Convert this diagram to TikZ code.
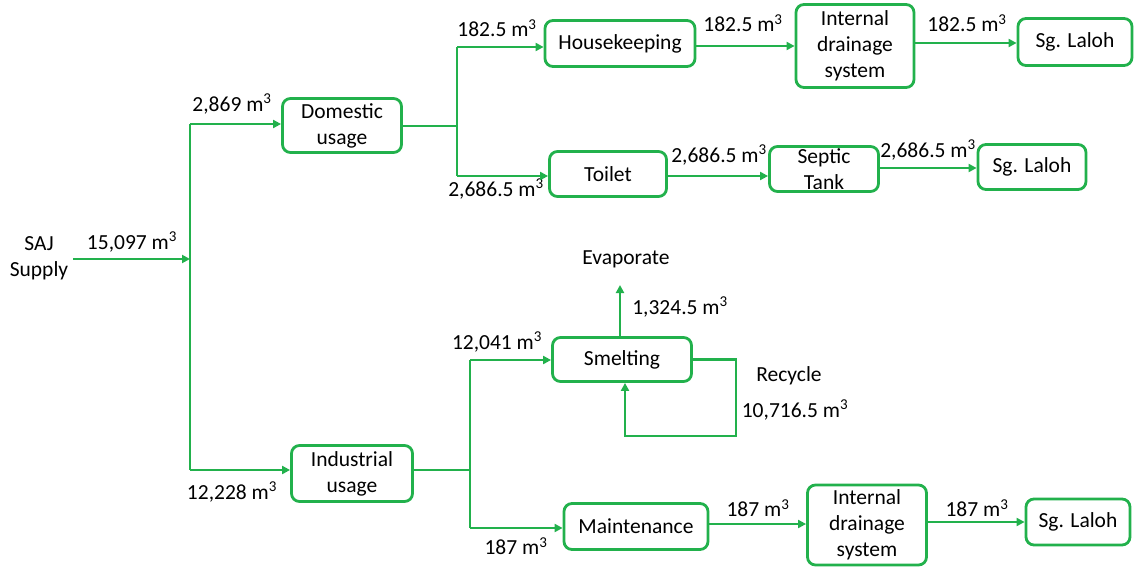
\documentclass[tikz,border=0pt]{standalone}
\usepackage{fontspec}
\setmainfont{Carlito}
\usetikzlibrary{arrows.meta}
\definecolor{flowgreen}{RGB}{34,177,76}
\begin{document}
\begin{tikzpicture}[x=1pt,y=-1pt,
  box/.style={draw=flowgreen, line width=2.8pt, rounded corners=8pt, align=center, inner sep=0pt, font=\fontsize{21.5}{26}\selectfont},
  lbl/.style={font=\fontsize{21.5}{26}\selectfont, inner sep=0pt, align=center},
  flow/.style={draw=flowgreen, line width=2.8pt, -{Triangle[length=8pt,width=8pt]}},
  plain/.style={draw=flowgreen, line width=2.8pt}]
\useasboundingbox (0,0) rectangle (1134,569);

% boxes
\node[box, minimum width=119pt, minimum height=54pt] (dom) at (342,125.5) {Domestic\\usage};
\node[box, minimum width=150pt, minimum height=46pt] (hk) at (620,43.5) {Housekeeping};
\node[box, minimum width=118pt, minimum height=83pt] (idt) at (855,46) {Internal\\drainage\\system};
\node[box, minimum width=114pt, minimum height=47pt] (sgt) at (1075,42) {Sg. Laloh};
\node[box, minimum width=117pt, minimum height=45pt] (toi) at (608,174) {Toilet};
\node[box, minimum width=109pt, minimum height=45pt] (sep) at (824,169) {Septic\\Tank};
\node[box, minimum width=108pt, minimum height=45pt] (sgm) at (1032,167) {Sg. Laloh};
\node[box, minimum width=121pt, minimum height=56pt] (ind) at (352,473.5) {Industrial\\usage};
\node[box, minimum width=139pt, minimum height=44pt] (sm) at (622,359.5) {Smelting};
\node[box, minimum width=144pt, minimum height=46pt] (mai) at (636,526.5) {Maintenance};
\node[box, minimum width=119pt, minimum height=80pt] (idb) at (867,525) {Internal\\drainage\\system};
\node[box, minimum width=104pt, minimum height=46pt] (sgb) at (1078,522) {Sg. Laloh};

% plain text nodes
\node[lbl] (saj) at (39,258) {SAJ\\Supply};
\node[lbl] (evap) at (626,259) {Evaporate};
\node[lbl] (rec) at (789,376) {Recycle};

% labels
\node[lbl] (l1) at (132,242) {15,097 m\textsuperscript{3}};
\node[lbl] (l2) at (232,104) {2,869 m\textsuperscript{3}};
\node[lbl] (l3) at (232,492) {12,228 m\textsuperscript{3}};
\node[lbl] (l4) at (497,28) {182.5 m\textsuperscript{3}};
\node[lbl] (l5) at (496,189) {2,686.5 m\textsuperscript{3}};
\node[lbl] (l6) at (743,23) {182.5 m\textsuperscript{3}};
\node[lbl] (l7) at (967,23) {182.5 m\textsuperscript{3}};
\node[lbl] (l8) at (719,155) {2,686.5 m\textsuperscript{3}};
\node[lbl] (l9) at (928,150) {2,686.5 m\textsuperscript{3}};
\node[lbl] (l10) at (497,342) {12,041 m\textsuperscript{3}};
\node[lbl] (l11) at (516,546) {187 m\textsuperscript{3}};
\node[lbl] (l12) at (680,307) {1,324.5 m\textsuperscript{3}};
\node[lbl] (l13) at (795,410) {10,716.5 m\textsuperscript{3}};
\node[lbl] (l14) at (758,508) {187 m\textsuperscript{3}};
\node[lbl] (l15) at (977,508) {187 m\textsuperscript{3}};

% junctions
\coordinate (jtop) at (190,124);
\coordinate (jbot) at (190,470);
\coordinate (jin) at (190,259);
\coordinate (jd) at (457,126);
\coordinate (jd1) at (457,47);
\coordinate (jd2) at (457,176);
\coordinate (ji) at (470,470);
\coordinate (ji1) at (470,360);
\coordinate (ji2) at (470,528);
\coordinate (evtip) at (620,285);
\coordinate (rc) at (736,436);

% connectors
\draw[flow] ([xshift=5pt]saj.east |- jin) -- (jin);
\draw[plain] (jtop) -- (jbot);
\draw[flow] (jtop) -- (jtop -| dom.west);
\draw[flow] (jbot) -- (jbot -| ind.west);

\draw[plain] (dom.east |- jd) -- (jd);
\draw[plain] (jd1) -- (jd2);
\draw[flow] (jd1) -- (jd1 -| hk.west);
\draw[flow] (jd2) -- (jd2 -| toi.west);

\draw[plain] (ind.east |- ji) -- (ji);
\draw[plain] (ji1) -- (ji2);
\draw[flow] (ji1) -- (ji1 -| sm.west);
\draw[flow] (ji2) -- (ji2 -| mai.west);

\draw[flow] (hk.east |- 0,46) -- (idt.west |- 0,46);
\draw[flow] (idt.east |- 0,43) -- (sgt.west |- 0,43);
\draw[flow] (toi.east |- 0,176) -- (sep.west |- 0,176);
\draw[flow] (sep.east |- 0,168) -- (sgm.west |- 0,168);

\draw[flow] (sm.north -| evtip) -- (evtip);
\draw[flow] (sm.east) -| (rc) -| ([xshift=3pt]sm.south);

\draw[flow] (mai.east |- 0,524) -- (idb.west |- 0,524);
\draw[flow] (idb.east |- 0,522) -- (sgb.west |- 0,522);
\end{tikzpicture}
\end{document}
